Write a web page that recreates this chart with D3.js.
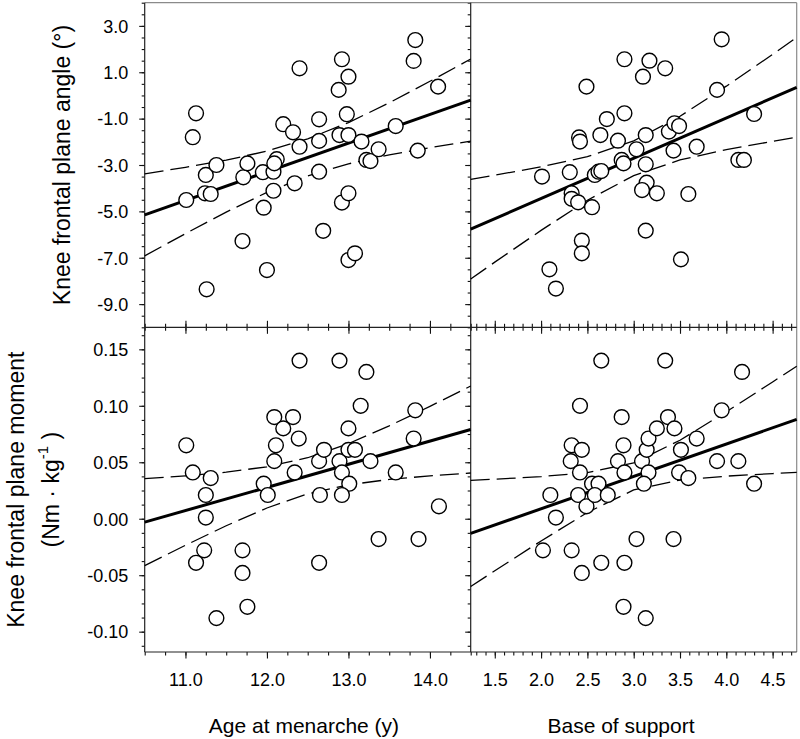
<!DOCTYPE html>
<html><head><meta charset="utf-8">
<script src="https://cdn.jsdelivr.net/npm/d3@7"></script>
<style>
body{margin:0;background:#fff}
svg{display:block}
text{font-family:"Liberation Sans",Arial,sans-serif;fill:#000}
</style>
</head><body>
<svg id="chart" width="800" height="739"></svg>
<script>
// ---------- tick labels ----------
const ageTicks = [11, 12, 13, 14];
const bosTicks = [1.5, 2.0, 2.5, 3.0, 3.5, 4.0, 4.5];
const angleTicks = [3, 1, -1, -3, -5, -7, -9];
const momentTicks = [0.15, 0.10, 0.05, 0.00, -0.05, -0.10];

// ---------- points [x, y] ----------
const ageAngle = [
  [11.01,-4.51],[11.13,-0.77],[11.09,-1.80],[11.25,-3.43],[11.38,-3.00],[11.24,-4.22],
  [11.31,-4.25],[11.26,-8.36],[11.71,-3.53],[11.76,-2.93],[11.70,-6.28],[11.95,-3.31],
  [11.96,-4.84],[12.00,-7.53],[12.08,-3.29],[12.12,-2.75],[12.09,-2.93],[12.08,-4.11],
  [12.20,-1.24],[12.32,-1.59],[12.40,-2.21],[12.34,-3.79],[12.40,1.17],[12.64,-1.03],
  [12.64,-1.96],[12.64,-3.29],[12.69,-5.84],[12.88,0.24],[12.92,1.56],[13.00,0.81],
  [12.98,-0.81],[12.89,-1.71],[13.00,-1.71],[13.16,-1.99],[12.92,-4.62],[13.00,-4.22],
  [13.00,-7.10],[13.08,-6.81],[13.22,-2.78],[13.27,-2.83],[13.37,-2.32],[13.58,-1.32],
  [13.80,1.49],[13.82,2.39],[13.85,-2.38],[14.10,0.38]
];
const bosAngle = [
  [2.01,-3.50],[2.09,-7.50],[2.16,-8.33],[2.31,-3.31],[2.33,-4.22],[2.33,-4.46],
  [2.40,-4.61],[2.41,-1.81],[2.42,-1.99],[2.44,-6.26],[2.44,-6.81],[2.49,0.38],
  [2.55,-4.82],[2.58,-3.43],[2.62,-3.29],[2.65,-3.26],[2.64,-1.71],[2.71,-1.02],
  [2.83,-1.95],[2.87,-2.78],[2.89,-2.93],[2.90,1.56],[2.90,-0.77],[3.03,-2.32],
  [3.10,0.81],[3.13,-2.97],[3.13,-1.71],[3.13,-5.83],[3.14,-3.76],[3.09,-4.08],
  [3.17,1.50],[3.25,-4.22],[3.34,1.17],[3.38,-1.56],[3.44,-1.20],[3.49,-1.32],
  [3.43,-2.38],[3.51,-7.07],[3.59,-4.25],[3.68,-2.21],[3.90,0.24],[3.95,2.42],
  [4.13,-2.78],[4.19,-2.78],[4.30,-0.80]
];
const ageMoment = [
  [11.01,0.065],[11.09,0.041],[11.31,0.036],[11.25,0.021],[11.25,0.001],[11.23,-0.028],
  [11.13,-0.039],[11.38,-0.088],[11.70,-0.028],[11.70,-0.048],[11.76,-0.078],[11.96,0.031],
  [12.01,0.021],[12.09,0.090],[12.20,0.080],[12.11,0.065],[12.09,0.051],[12.32,0.090],
  [12.39,0.071],[12.34,0.041],[12.40,0.140],[12.64,0.051],[12.70,0.061],[12.65,0.021],
  [12.64,-0.039],[12.89,0.140],[12.89,0.051],[12.92,0.041],[13.00,0.080],[13.00,0.061],
  [13.08,0.061],[13.01,0.031],[12.92,0.021],[13.15,0.100],[13.22,0.130],[13.27,0.051],
  [13.37,-0.018],[13.58,0.041],[13.80,0.071],[13.82,0.096],[13.86,-0.018],[14.11,0.011]
];
const bosMoment = [
  [2.02,-0.028],[2.10,0.021],[2.16,0.001],[2.33,0.065],[2.32,0.051],[2.33,-0.028],
  [2.42,0.100],[2.44,0.061],[2.42,0.041],[2.40,0.021],[2.44,-0.048],[2.49,0.011],
  [2.55,0.031],[2.62,0.031],[2.58,0.021],[2.72,0.021],[2.65,0.140],[2.65,-0.039],
  [2.83,0.051],[2.87,0.090],[2.89,0.065],[2.90,0.041],[2.89,-0.078],[2.90,-0.039],
  [3.03,-0.018],[3.09,0.051],[3.14,0.061],[3.16,0.071],[3.16,0.041],[3.11,0.031],
  [3.13,-0.088],[3.25,0.080],[3.34,0.140],[3.37,0.090],[3.44,0.080],[3.43,-0.018],
  [3.51,0.061],[3.49,0.041],[3.59,0.036],[3.68,0.071],[3.90,0.051],[3.95,0.096],
  [4.13,0.051],[4.17,0.130],[4.30,0.031]
];

// ---------- regression lines (end points) and confidence bands ----------
const ageAngleFit = [[10.5,-5.15],[14.5,-0.20]];
const bosAngleFit = [[1.24,-5.77],[4.76,0.35]];
const ageMomentFit = [[10.5,-0.003],[14.5,0.079]];
const bosMomentFit = [[1.24,-0.013],[4.76,0.088]];

const ageBandX = [10.5,11.0,11.5,12.0,12.5,13.0,13.5,14.0,14.5];
const bosBandX = [1.24,1.5,2.0,2.5,3.0,3.5,4.0,4.5,4.76];

const ageAngleUpper = [-3.38,-3.10,-2.79,-2.40,-1.87,-1.17,-0.32,0.61,1.57];
const ageAngleLower = [-6.92,-5.96,-5.03,-4.18,-3.47,-2.95,-2.56,-2.25,-1.97];
const bosAngleUpper = [-3.62,-3.44,-3.08,-2.64,-1.96,-0.90,0.40,1.77,2.50];
const bosAngleLower = [-7.92,-7.19,-5.82,-4.52,-3.46,-2.78,-2.34,-1.98,-1.80];
const ageMomentUpper = [0.0355,0.0380,0.0412,0.0460,0.0540,0.0665,0.0822,0.0995,0.1175];
const ageMomentLower = [-0.0415,-0.0235,-0.0062,0.0095,0.0220,0.0300,0.0348,0.0380,0.0405];
const bosMomentUpper = [0.034,0.0350,0.0373,0.0408,0.0495,0.0695,0.0947,0.1211,0.135];
const bosMomentLower = [-0.060,-0.0461,-0.0197,0.0055,0.0255,0.0342,0.0377,0.0400,0.041];

// ---------- layout ----------
const svg = d3.select("#chart");
const L = 144.7, M = 470.7, R = 796.7, T = 2.7, Mid = 327.3, B = 652;

const xAge = d3.scaleLinear().domain([10.5, 14.5]).range([L, M]);
const xBos = d3.scaleLinear().domain([1.24, 4.76]).range([M, R]);
const yAng = d3.scaleLinear().domain([-10, 4]).range([Mid, T]);
const yMom = d3.scaleLinear().domain([-0.118, 0.1695]).range([B, Mid]);

const ageMinor = d3.range(10.5, 14.501, 0.25);
const bosMinor = d3.range(1.3, 4.75, 0.1);
const angMinor = d3.range(-10, 4.001, 0.5);
const momMinor = d3.range(-0.1125, 0.17, 0.0125);

function clean(g){ g.select(".domain").remove(); g.selectAll("line").attr("stroke","#111").attr("stroke-width",1.1); }

function axis(gen, tr, size, values, fmt){
  const a = gen.tickValues(values).tickSize(size).tickFormat(fmt || "");
  const g = svg.append("g").attr("transform", tr).call(a).call(clean);
  g.selectAll("text").attr("font-size", 18).attr("font-family", '"Liberation Sans",Arial,sans-serif').attr("fill","#000");
  return g;
}

// y axes (left side of each panel, ticks outward)
axis(d3.axisLeft(yAng), `translate(${L},0)`, 3, angMinor);
axis(d3.axisLeft(yAng), `translate(${M},0)`, 3, angMinor);
axis(d3.axisLeft(yMom), `translate(${L},0)`, 3, momMinor);
axis(d3.axisLeft(yMom), `translate(${M},0)`, 3, momMinor);
axis(d3.axisLeft(yAng), `translate(${M},0)`, 5.5, angleTicks);
axis(d3.axisLeft(yMom), `translate(${M},0)`, 5.5, momentTicks);
const yl1 = axis(d3.axisLeft(yAng), `translate(${L},0)`, 5.5, angleTicks, d => d.toFixed(1));
const yl2 = axis(d3.axisLeft(yMom), `translate(${L},0)`, 5.5, momentTicks, d => d.toFixed(2));
[yl1, yl2].forEach(g => g.selectAll("text").attr("x", -16.5).attr("dy", "0.35em"));

// bottom x axes
axis(d3.axisBottom(xAge), `translate(0,${B})`, 3.5, ageMinor);
axis(d3.axisBottom(xBos), `translate(0,${B})`, 3.5, bosMinor);
const xl1 = axis(d3.axisBottom(xAge), `translate(0,${B})`, 6.5, ageTicks, d => d.toFixed(1));
const xl2 = axis(d3.axisBottom(xBos), `translate(0,${B})`, 6.5, bosTicks, d => d.toFixed(1));
[xl1, xl2].forEach(g => g.selectAll("text").attr("y", 34).attr("dy", 0));

// middle boundary ticks (crossing)
[[d3.axisBottom, 3.5, ageMinor, xAge],[d3.axisTop, 3.5, ageMinor, xAge],
 [d3.axisBottom, 6.5, ageTicks, xAge],[d3.axisTop, 6.5, ageTicks, xAge],
 [d3.axisBottom, 3.5, bosMinor, xBos],[d3.axisTop, 3.5, bosMinor, xBos],
 [d3.axisBottom, 6.5, bosTicks, xBos],[d3.axisTop, 6.5, bosTicks, xBos]]
 .forEach(([gen, s, v, sc]) => axis(gen(sc), `translate(0,${Mid})`, s, v));

// frame
const frame = svg.append("g").attr("fill","none");
frame.append("line").attr("x1",L).attr("x2",R).attr("y1",T).attr("y2",T).attr("stroke","#8a8a8a").attr("stroke-width",1.2);
frame.append("line").attr("x1",R).attr("x2",R).attr("y1",T).attr("y2",B).attr("stroke","#8a8a8a").attr("stroke-width",1.2);
[[L,T,L,B],[M,T,M,B],[L,Mid,R,Mid],[L,B,R,B]].forEach(([a,b,c,d]) =>
  frame.append("line").attr("x1",a).attr("y1",b).attr("x2",c).attr("y2",d).attr("stroke","#222").attr("stroke-width",1.2));

// panels
function panel(xs, ys, pts, fit, bandX, up, lo){
  const g = svg.append("g");
  const line = d3.line().x(d => xs(d[0])).y(d => ys(d[1]));
  g.append("path").attr("d", line(d3.zip(bandX, up))).attr("fill","none").attr("stroke","#000")
    .attr("stroke-width",1.3).attr("stroke-dasharray","19,7");
  g.append("path").attr("d", line(d3.zip(bandX, lo))).attr("fill","none").attr("stroke","#000")
    .attr("stroke-width",1.3).attr("stroke-dasharray","19,7");
  g.append("path").attr("d", line(fit)).attr("fill","none").attr("stroke","#000").attr("stroke-width",3);
  g.selectAll("circle").data(pts).join("circle")
    .attr("cx", d => xs(d[0])).attr("cy", d => ys(d[1])).attr("r", 7.4)
    .attr("fill","#fff").attr("stroke","#000").attr("stroke-width",1.4);
}
panel(xAge, yAng, ageAngle, ageAngleFit, ageBandX, ageAngleUpper, ageAngleLower);
panel(xBos, yAng, bosAngle, bosAngleFit, bosBandX, bosAngleUpper, bosAngleLower);
panel(xAge, yMom, ageMoment, ageMomentFit, ageBandX, ageMomentUpper, ageMomentLower);
panel(xBos, yMom, bosMoment, bosMomentFit, bosBandX, bosMomentUpper, bosMomentLower);

// titles
svg.append("text").attr("transform","translate(70,165) rotate(-90)").attr("text-anchor","middle")
  .attr("font-size",23).text("Knee frontal plane angle (°)");
svg.append("text").attr("transform","translate(24,489.7) rotate(-90)").attr("text-anchor","middle")
  .attr("font-size",23).text("Knee frontal plane moment");
const t2 = svg.append("text").attr("transform","translate(59,489.7) rotate(-90)").attr("text-anchor","middle")
  .attr("font-size",23);
t2.append("tspan").text("(Nm · kg");
t2.append("tspan").attr("font-size",15).attr("dy",-11).text("-1");
t2.append("tspan").attr("dy",11).text(" )");
svg.append("text").attr("x",304).attr("y",733).attr("text-anchor","middle").attr("font-size",21).text("Age at menarche (y)");
svg.append("text").attr("x",621).attr("y",733).attr("text-anchor","middle").attr("font-size",21).text("Base of support");
</script>
</body></html>
